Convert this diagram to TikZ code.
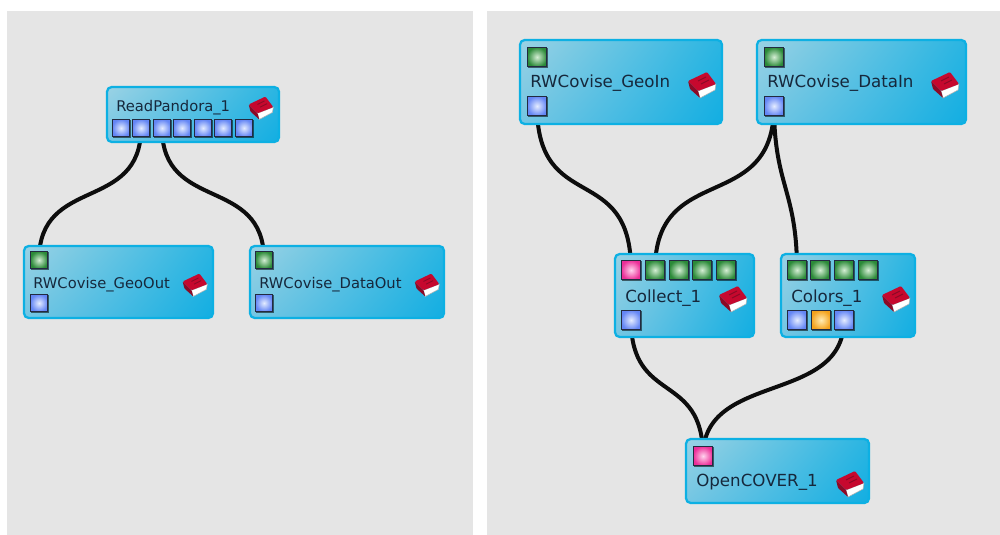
\documentclass[tikz,border=0pt]{standalone}
\usepackage{fontspec}
\usetikzlibrary{shadings,shadows}
\setmainfont{DejaVu Sans}
\pgfdeclarelayer{panels}
\pgfdeclarelayer{edges}
\pgfsetlayers{panels,edges,main}
\definecolor{panelgray}{HTML}{E5E5E5}
\definecolor{modedge}{HTML}{0DB0E3}
\definecolor{modUL}{HTML}{9AD2E4}
\definecolor{modLL}{HTML}{74C6E3}
\definecolor{modUR}{HTML}{2AB5E2}
\definecolor{modLR}{HTML}{12AEE2}
\definecolor{portline}{HTML}{222A40}
\definecolor{txtcol}{HTML}{16283C}
\definecolor{bookred}{HTML}{C6082E}
\definecolor{bookdark}{HTML}{8C0A26}
\definecolor{blueout}{HTML}{6486F5}
\definecolor{bluein}{HTML}{E4ECFF}
\definecolor{greenout}{HTML}{2B8A38}
\definecolor{greenin}{HTML}{D4EED4}
\definecolor{pinkout}{HTML}{EC2E98}
\definecolor{pinkin}{HTML}{FFD4EE}
\definecolor{orangeout}{HTML}{F4A21C}
\definecolor{orangein}{HTML}{FFECB4}
\tikzset{
  panel/.style={fill=panelgray,draw=none},
  modbox/.style={draw=modedge,line width=1.7pt,rounded corners=3.5pt,
    upper left=modUL,lower left=modLL,upper right=modUR,lower right=modLR},
  modlabelL/.style={anchor=base west,inner sep=0pt,text=txtcol,font=\fontsize{11.05}{13}\selectfont},
  modlabelR/.style={anchor=base west,inner sep=0pt,text=txtcol,font=\fontsize{12.5}{14}\selectfont},
  portbase/.style={rectangle,inner sep=0pt,draw=portline,line width=.9pt,
    drop shadow={shadow xshift=.7pt,shadow yshift=-.7pt,fill=black,opacity=.55}},
  small/.style={minimum size=13pt},
  large/.style={minimum size=14.8pt},
  pblue/.style={portbase,inner color=bluein,outer color=blueout},
  pgreen/.style={portbase,inner color=greenin,outer color=greenout},
  ppink/.style={portbase,inner color=pinkin,outer color=pinkout},
  porange/.style={portbase,inner color=orangein,outer color=orangeout},
  wire/.style={draw=black!95,line width=3pt},
  book/.pic={
    \fill[white,draw=gray!60,line width=.4pt] (-4,6)--(14,-1)--(13,5)--(-2,13)--cycle;
    \fill[bookdark,rounded corners=.6pt] (-14,-4)--(-4,6)--(-2,13)--(-12,4)--cycle;
    \fill[bookred,rounded corners=.8pt] (-14,-4)--(5,-13)--(14,-1)--(-4,6)--cycle;
    \draw[bookdark,line width=.7pt] (-4,-4)--(4,-8) (-1,-1)--(7,-5);
  }
}
\newcommand{\modulebox}[5]{% name x1 y1 x2 y2
  \path[modbox] (#2,#3) rectangle (#4,#5);
  \coordinate (#1) at (#2,#3);}
\begin{document}
\begin{tikzpicture}[x=0.75pt,y=-0.75pt]
\useasboundingbox (0,0) rectangle (1000,535);
\begin{pgfonlayer}{panels}
  \fill[white] (0,0) rectangle (1000,535);
  \path[panel] (7,11) rectangle (473,535);
  \path[panel] (487,11) rectangle (1000,535);
\end{pgfonlayer}

% ReadPandora_1
\modulebox{mRead}{107}{87}{279}{142}
\node[modlabelL] (lRead) at (116,112) {ReadPandora\_1};
\pic[scale=.88] at (261,108) {book};
\foreach \i/\x in {1/121,2/141,3/162,4/182,5/203,6/223,7/244}
  \node[pblue,small] (rp\i) at (\x,128) {};

% RWCovise_GeoOut
\modulebox{mGeoOut}{24}{246}{213}{318}
\node[pgreen,small] (goIn) at (39,260) {};
\node[modlabelL] (lGeoOut) at (33,288) {RWCovise\_GeoOut};
\node[pblue,small] (goOut) at (39,303) {};
\pic[scale=.88] at (195,285) {book};

% RWCovise_DataOut
\modulebox{mDataOut}{250}{246}{444}{318}
\node[pgreen,small] (doIn) at (264,260) {};
\node[modlabelL] (lDataOut) at (259,288) {RWCovise\_DataOut};
\node[pblue,small] (doOut) at (264,303) {};
\pic[scale=.88] at (427,285) {book};

% RWCovise_GeoIn
\modulebox{mGeoIn}{520}{40}{722}{124}
\node[pgreen,large] (giIn) at (537,57) {};
\node[modlabelR] (lGeoIn) at (530,88) {RWCovise\_GeoIn};
\node[pblue,large] (giOut) at (537,106) {};
\pic at (702,85) {book};

% RWCovise_DataIn
\modulebox{mDataIn}{757}{40}{966}{124}
\node[pgreen,large] (diIn) at (774,57) {};
\node[modlabelR] (lDataIn) at (767,88) {RWCovise\_DataIn};
\node[pblue,large] (diOut) at (774,106) {};
\pic at (945,85) {book};

% Collect_1
\modulebox{mCollect}{615}{254}{754}{337}
\node[ppink,large] (coP) at (631,270) {};
\foreach \i/\x in {1/655,2/679,3/702,4/726}
  \node[pgreen,large] (coG\i) at (\x,270) {};
\node[modlabelR] (lCollect) at (625,302) {Collect\_1};
\node[pblue,large] (coOut) at (631,320) {};
\pic at (733,299) {book};

% Colors_1
\modulebox{mColors}{781}{254}{915}{337}
\foreach \i/\x in {1/797,2/820,3/844,4/868}
  \node[pgreen,large] (clG\i) at (\x,270) {};
\node[modlabelR] (lColors) at (791,302) {Colors\_1};
\node[pblue,large] (clA) at (797,320) {};
\node[porange,large] (clB) at (821,320) {};
\node[pblue,large] (clC) at (844,320) {};
\pic at (896,299) {book};

% OpenCOVER_1
\modulebox{mCover}{686}{439}{869}{503}
\node[ppink,large] (ocP) at (703,456) {};
\node[modlabelR] (lCover) at (696,486) {OpenCOVER\_1};
\pic at (850,484) {book};

\begin{pgfonlayer}{edges}
  \draw[wire] (rp2.center) .. controls +(0,85) and +(0,-85) .. (goIn.center);
  \draw[wire] (rp3.center) .. controls +(0,85) and +(0,-85) .. (doIn.center);
  \draw[wire] (giOut.center) .. controls +(0,110) and +(0,-110) .. (coP.center);
  \draw[wire] (diOut.center) .. controls +(0,110) and +(0,-110) .. (coG1.center);
  \draw[wire] (diOut.center) .. controls +(0,80) and +(0,-80) .. (clG1.center);
  \draw[wire] (coOut.center) .. controls +(0,85) and +(0,-85) .. (ocP.center);
  \draw[wire] (clC.center) .. controls +(0,85) and +(0,-85) .. (ocP.center);
\end{pgfonlayer}
\end{tikzpicture}
\end{document}
